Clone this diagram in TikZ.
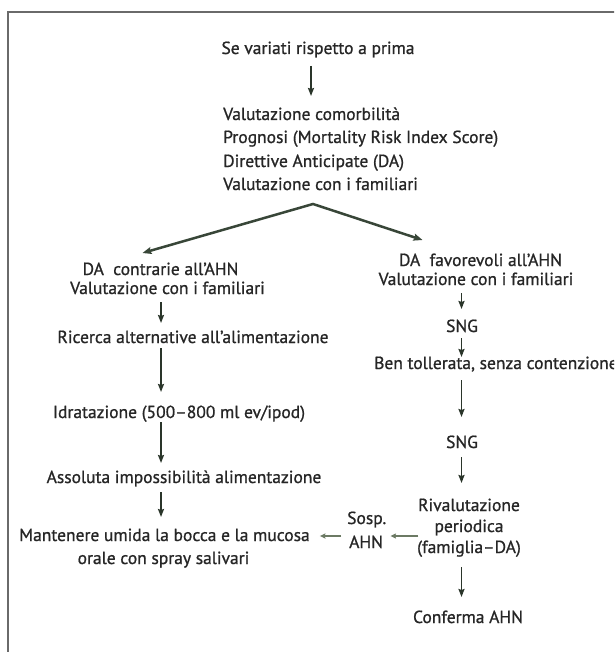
\documentclass[tikz,border=0pt]{standalone}
\usepackage{fontspec}
\setmainfont{PT Sans}[FakeBold=0.9]
\usetikzlibrary{arrows.meta}
\definecolor{txtc}{HTML}{262626}
\definecolor{arrc}{HTML}{2A352A}
\definecolor{splitc}{HTML}{384638}
\definecolor{smallc}{HTML}{6C7A64}
\definecolor{framec}{HTML}{6A6A6A}
\tikzset{
  txt/.style={inner sep=0pt, font=\fontsize{17.5}{21}\selectfont, text=txtc},
  arr/.style={draw=arrc, line width=1.9pt, -{Stealth[length=8pt,width=6pt,inset=1pt]}},
  splitline/.style={draw=splitc, line width=2.5pt, line join=miter, {Stealth[length=9pt,width=7pt,inset=1.5pt]}-{Stealth[length=9pt,width=7pt,inset=1.5pt]}},
  smallarr/.style={draw=smallc, line width=1.4pt, -{Stealth[length=5.5pt,width=5pt,inset=0.8pt]}},
  framel/.style={draw=framec, line width=1.6pt}
}
\begin{document}
\begin{tikzpicture}[x=1pt,y=-1pt]
\useasboundingbox (0,0) rectangle (614,652);
\clip (0,0) rectangle (614,652);
\fill[white] (0,0) rectangle (614,652);
\draw[framel] (8,670) -- (8,12) -- (630,12);

% column reference coordinates
\coordinate (cT) at (311,0);
\coordinate (cL) at (161,0);
\coordinate (cR) at (461.5,0);

% top
\node[txt, anchor=base] (top) at (318,54) {Se variati rispetto a prima};
\node[txt, anchor=base west] (b1) at (223,120) {Valutazione comorbilità};
\node[txt, anchor=base west] (b2) at (223,143) {Prognosi (Mortality Risk Index Score)};
\node[txt, anchor=base west] (b3) at (223,167) {Direttive Anticipate (DA)};
\node[txt, anchor=base west] (b4) at (223,190) {Valutazione con i familiari};
\coordinate (apex) at (313,204);

% left column
\node[txt, anchor=base] (l1) at (160.5,275) {DA~~contrarie all’AHN};
\node[txt, anchor=base] (l2) at (167.5,294) {Valutazione con i familiari};
\node[txt, anchor=base] (l3) at (193,343) {Ricerca alternative all’alimentazione};
\node[txt, anchor=base] (l4) at (179,418) {Idratazione (500–800 ml ev/ipod)};
\node[txt, anchor=base] (l5) at (184,483) {Assoluta impossibilità alimentazione};
\node[txt, anchor=base] (l6) at (164.5,541) {Mantenere umida la bocca e la mucosa};
\node[txt, anchor=base] (l7) at (163.5,564) {orale con spray salivari};

% right column
\node[txt, anchor=base] (r1) at (480.5,266) {DA~~favorevoli all’AHN};
\node[txt, anchor=base] (r2) at (476,285) {Valutazione con i familiari};
\node[txt, anchor=base] (r3) at (462,332) {SNG};
\node[txt, anchor=base west] (r4) at (374,369) {Ben tollerata, senza contenzione};
\node[txt, anchor=base] (r5) at (462,448) {SNG};
\node[txt, anchor=base] (r6) at (469,511) {Rivalutazione};
\node[txt, anchor=base] (r7) at (469,532) {periodica};
\node[txt, anchor=base] (r8) at (469,553) {(famiglia–DA)};
\node[txt, anchor=base] (r9) at (468,623) {Conferma AHN};
\node[txt, anchor=base west] (s1) at (347,524) {Sosp.};
\node[txt, anchor=base west] (s2) at (349,548) {AHN};

% split connectors
\coordinate (tipL) at ([xshift=-18pt,yshift=22pt]l1.base);
\coordinate (tipR) at ([xshift=-58pt,yshift=26pt]r1.base);
\draw[splitline] (tipL) -- (apex) -- (tipR);

% vertical arrows
\draw[arr] ([yshift=-12pt]top.base -| cT) -- ([yshift=24pt]b1.base -| cT);
\draw[arr] ([yshift=-8pt]l2.base -| cL) -- ([yshift=20pt]l3.base -| cL);
\draw[arr] ([yshift=-5pt]l3.base -| cL) -- ([yshift=26pt]l4.base -| cL);
\draw[arr] ([yshift=-4pt]l4.base -| cL) -- ([yshift=20pt]l5.base -| cL);
\draw[arr] ([yshift=-9pt]l5.base -| cL) -- ([yshift=24pt]l6.base -| cL);

\draw[arr] ([yshift=-8pt]r2.base -| cR) -- ([yshift=23pt]r3.base -| cR);
\draw[arr] ([yshift=-6pt]r3.base -| cR) -- ([yshift=12pt]r4.base -| cR);
\draw[arr] ([yshift=-11pt]r4.base -| cR) -- ([yshift=31pt]r5.base -| cR);
\draw[arr] ([yshift=-9pt]r5.base -| cR) -- ([yshift=28pt]r6.base -| cR);
\draw[arr] ([yshift=-14pt]r8.base -| cR) -- ([yshift=26pt]r9.base -| cR);

% small horizontal arrows
\draw[smallarr] ([xshift=-16pt,yshift=-4pt]r7.base west) -- ([xshift=4pt,yshift=-12pt]s1.base east);
\draw[smallarr] ([xshift=-6pt,yshift=-12pt]s1.base west) -- ([xshift=10pt,yshift=5pt]l6.base east);
\end{tikzpicture}
\end{document}
